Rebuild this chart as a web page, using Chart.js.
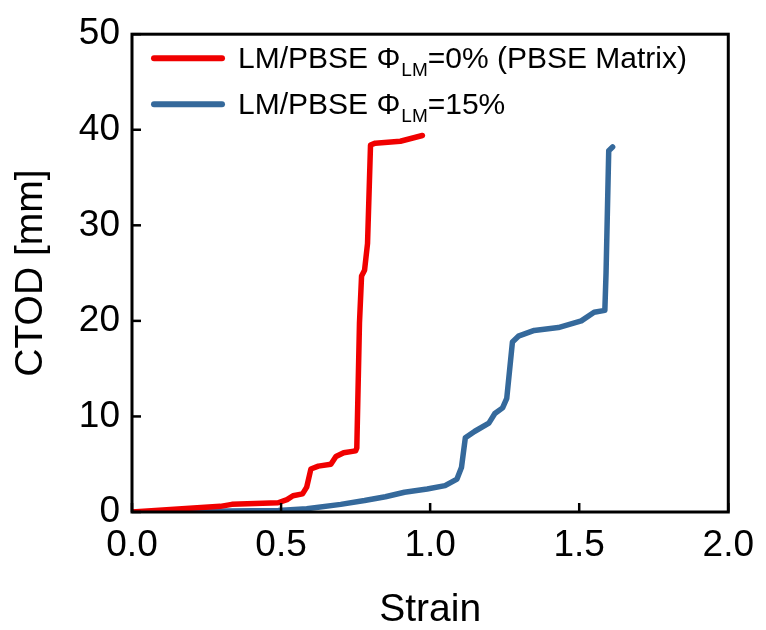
<!DOCTYPE html>
<html><head><meta charset="utf-8">
<script src="https://cdn.jsdelivr.net/npm/chart.js@4/dist/chart.umd.min.js"></script>
<style>html,body{margin:0;padding:0;background:#fff}#wrap{width:766px;height:630px}</style>
</head><body><div id="wrap"><canvas id="c" width="766" height="630"></canvas></div>
<script>
const redStrain = [0,0.296,0.335,0.49,0.52,0.54,0.572,0.586,0.60,0.625,0.667,0.684,0.71,0.75,0.754,0.763,0.77,0.78,0.79,0.80,0.816,0.90,0.974];
const redCTOD   = [0,0.59,0.8,0.97,1.3,1.7,1.9,2.6,4.5,4.8,5.0,5.8,6.2,6.4,6.7,19.8,24.7,25.3,28.1,38.4,38.6,38.8,39.4];
const blueStrain = [0,0.49,0.586,0.70,0.78,0.85,0.914,0.99,1.05,1.09,1.105,1.118,1.15,1.197,1.217,1.243,1.257,1.276,1.296,1.349,1.43,1.507,1.55,1.586,1.59,1.599,1.612];
const blueCTOD   = [0,0.17,0.34,0.8,1.2,1.6,2.07,2.4,2.76,3.45,4.65,7.76,8.45,9.3,10.3,10.9,11.9,17.8,18.4,19.0,19.3,20.0,20.9,21.1,25.0,37.8,38.2];
const xTicks = [0,0.5,1.0,1.5,2.0];
const yTicks = [0,10,20,30,40,50];
const legendMain = ["LM/PBSE \u03A6", "LM/PBSE \u03A6"];
const legendSub = ["LM", "LM"];
const legendTail = ["=0% (PBSE Matrix)", "=15%"];
const xTitle = "Strain";
const yTitle = "CTOD [mm]";
const colors = ["#f00000", "#35699b"];

const FONT = "'Liberation Sans', Arial, sans-serif";
const toPts = (xs, ys) => xs.map((x, i) => ({x: x, y: ys[i]}));

const framePlugin = {
  id: 'frame',
  afterDraw(chart) {
    const ctx = chart.ctx, a = chart.chartArea;
    const xs = chart.scales.x, ys = chart.scales.y;
    ctx.save();
    ctx.strokeStyle = '#000';
    ctx.lineWidth = 3;
    ctx.strokeRect(a.left, a.top, a.right - a.left, a.bottom - a.top);
    ctx.lineWidth = 2.5;
    xTicks.forEach(v => {
      const px = xs.getPixelForValue(v);
      ctx.beginPath(); ctx.moveTo(px, a.bottom); ctx.lineTo(px, a.bottom - 9); ctx.stroke();
    });
    yTicks.forEach(v => {
      const py = ys.getPixelForValue(v);
      ctx.beginPath(); ctx.moveTo(a.left, py); ctx.lineTo(a.left + 9, py); ctx.stroke();
    });
    // legend
    const fs = 30;
    legendMain.forEach((m, i) => {
      const ly = a.top + 24 + i * 46;
      ctx.strokeStyle = colors[i];
      ctx.lineWidth = 6; ctx.lineCap = 'round';
      ctx.beginPath(); ctx.moveTo(a.left + 22, ly); ctx.lineTo(a.left + 90, ly); ctx.stroke();
      ctx.fillStyle = '#000';
      ctx.textBaseline = 'alphabetic';
      let tx = a.left + 106;
      const by = ly + 10;
      ctx.font = fs + 'px ' + FONT;
      ctx.fillText(m, tx, by); tx += ctx.measureText(m).width + 1;
      ctx.font = '19px ' + FONT;
      ctx.fillText(legendSub[i], tx, by + 8); tx += ctx.measureText(legendSub[i]).width;
      ctx.font = fs + 'px ' + FONT;
      ctx.fillText(legendTail[i], tx, by);
    });
    ctx.restore();
  }
};

new Chart(document.getElementById('c'), {
  type: 'line',
  data: {
    datasets: [
      {data: toPts(redStrain, redCTOD), borderColor: colors[0], borderWidth: 5.5, pointRadius: 0, tension: 0, borderJoinStyle: 'round', borderCapStyle: 'round'},
      {data: toPts(blueStrain, blueCTOD), borderColor: colors[1], borderWidth: 5.5, pointRadius: 0, tension: 0, borderJoinStyle: 'round', borderCapStyle: 'round'}
    ]
  },
  options: {
    responsive: false,
    animation: false,
    events: [],
    layout: {padding: {left: 0, top: 28, right: 33, bottom: 0}},
    plugins: {legend: {display: false}, tooltip: {enabled: false}},
    scales: {
      x: {
        type: 'linear', min: 0, max: 2,
        afterBuildTicks: s => { s.ticks = xTicks.map(v => ({value: v})); },
        afterFit: s => { s.height = 118; },
        grid: {display: false, drawTicks: false},
        border: {display: false},
        ticks: {color: '#000', padding: 12, font: {family: FONT, size: 37}, callback: v => v.toFixed(1), maxRotation: 0},
        title: {display: true, text: xTitle, color: '#000', font: {family: FONT, size: 39}, padding: {top: 18, bottom: -4}}
      },
      y: {
        type: 'linear', min: 0, max: 50,
        afterBuildTicks: s => { s.ticks = yTicks.map(v => ({value: v})); },
        afterFit: s => { s.width = 132; },
        grid: {display: false, drawTicks: false},
        border: {display: false},
        ticks: {color: '#000', padding: 12, font: {family: FONT, size: 37}, callback: v => String(v)},
        title: {display: true, text: yTitle, color: '#000', font: {family: FONT, size: 39}, padding: {top: 8, bottom: 8}}
      }
    }
  },
  plugins: [framePlugin]
});
</script></body></html>
